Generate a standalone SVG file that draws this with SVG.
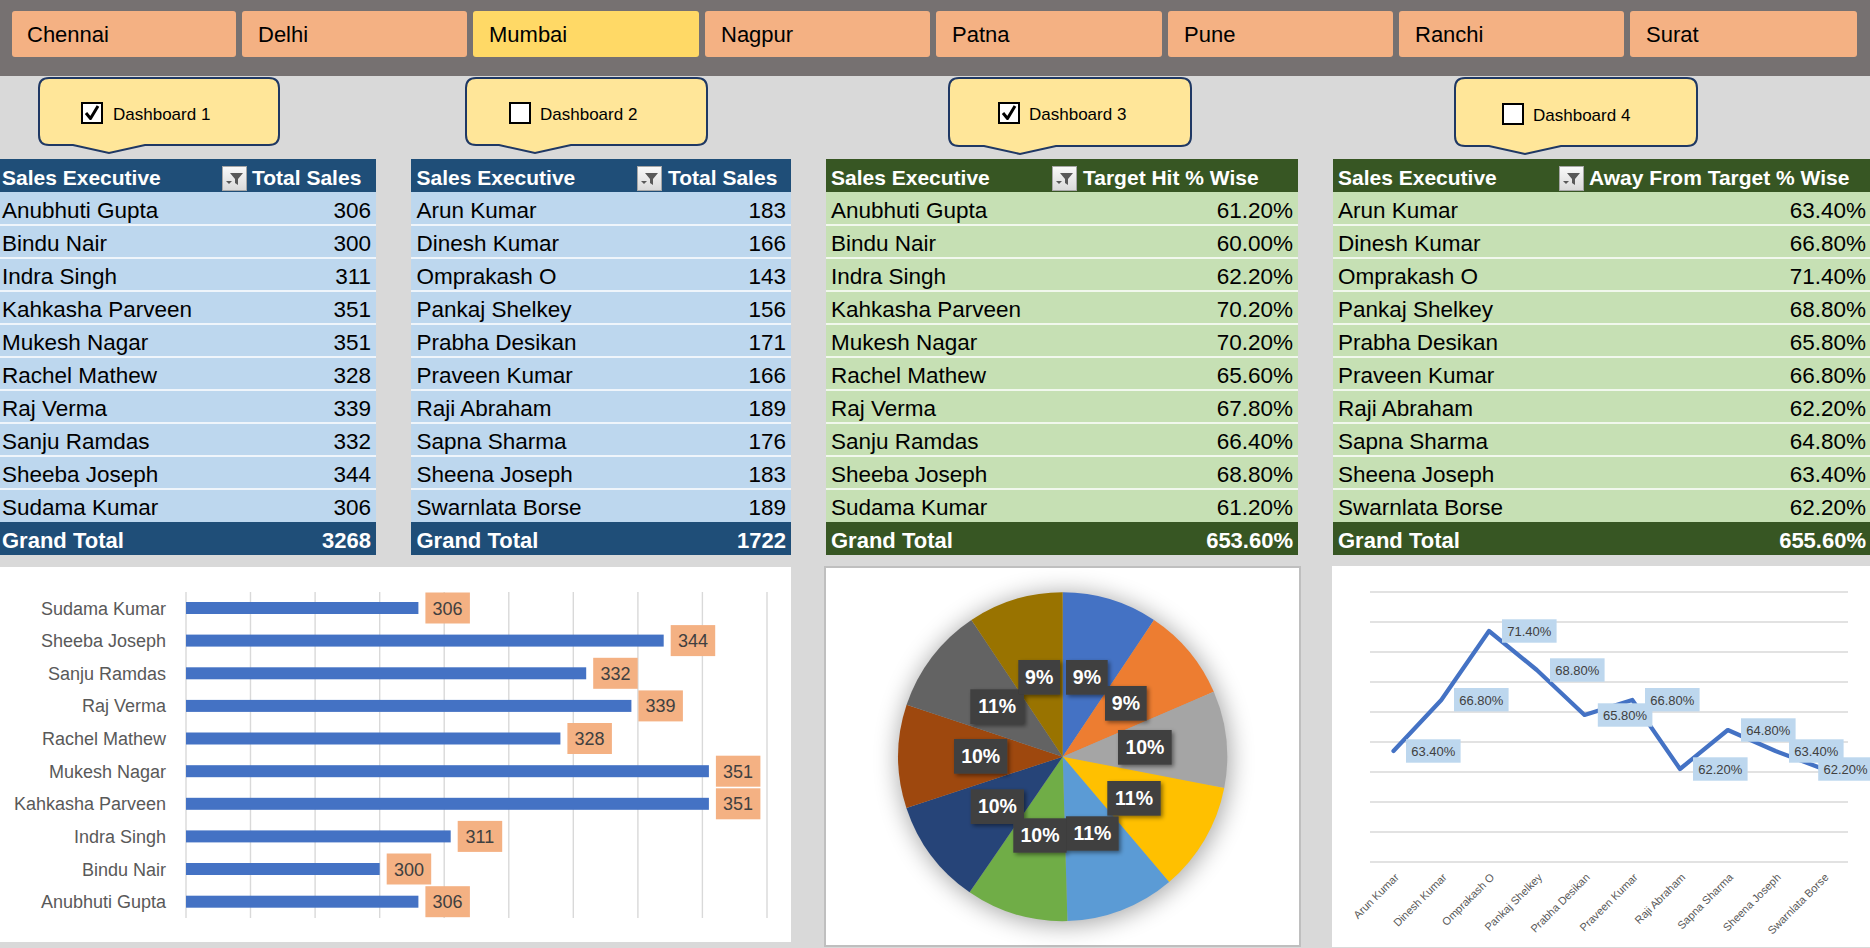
<svg xmlns="http://www.w3.org/2000/svg" xmlns:xlink="http://www.w3.org/1999/xlink" width="1870" height="948" viewBox="0 0 1870 948">
<defs>
<style>
text{font-family:"Liberation Sans",Arial,sans-serif}
.btn{fill:#F4B183}
.btnsel{fill:#FFD966}
.bt{font-size:22px;fill:#000}
.co{fill:#FFE699;stroke:#1F3864;stroke-width:2}
.cb{fill:#fff;stroke:#000;stroke-width:2}
.ck{fill:none;stroke:#000;stroke-width:3;stroke-linejoin:round}
.cbt{font-size:17px;fill:#000}
.hb{fill:#1F4E78}
.rb{fill:#BDD7EE}
.hg{fill:#375623}
.rg{fill:#C6E0B4}
.sep{stroke:#fff;stroke-width:1.6;fill:none}
.th{font-size:21px;font-weight:bold;fill:#fff}
.gt{font-size:22px;font-weight:bold;fill:#fff}
.td{font-size:22.5px;fill:#000}
.r{text-anchor:end}
.c{text-anchor:middle}
.grid{stroke:#D9D9D9;stroke-width:1.4}
.bar{fill:#4472C4}
.bl{fill:#F4B183}
.blt{font-size:18px;fill:#404040;text-anchor:middle}
.cat{font-size:18px;fill:#595959;text-anchor:end}
.pl{fill:#3F3F3F}
.plt{font-size:19.5px;font-weight:bold;fill:#fff;text-anchor:middle}
.ll{fill:#BDD7EE}
.llt{font-size:13px;fill:#404040;text-anchor:middle}
.lc{font-size:11px;fill:#595959;text-anchor:end}
</style>
<linearGradient id="fg" x1="0" y1="0" x2="0" y2="1">
<stop offset="0" stop-color="#FAFAFA"/>
<stop offset="1" stop-color="#D9D9D9"/>
</linearGradient>
<g id="flt">
<rect x="0.5" y="0.5" width="24" height="24" fill="url(#fg)" stroke="#A6A6A6"/>
<path d="M8 7H21L16 13V19L13 17V13Z" fill="#595959"/>
<path d="M4 15H10L7 18Z" fill="#595959"/>
</g>
<filter id="pshadow" x="-30%" y="-30%" width="160%" height="160%">
<feGaussianBlur stdDeviation="12"/>
</filter>
<filter id="lsh" x="-20%" y="-20%" width="150%" height="160%">
<feDropShadow dx="2" dy="2" stdDeviation="2" flood-color="#000" flood-opacity="0.45"/>
</filter>
</defs>

<rect x="0" y="0" width="1870" height="948" fill="#D9D9D9"/>
<rect x="0" y="0" width="1870" height="76" fill="#767171"/>

<g id="slicers">
<g id="btn-chennai"><rect class="btn" x="12" y="11" width="224" height="46" rx="3"/><text class="bt" x="27" y="42">Chennai</text></g>
<g id="btn-delhi"><rect class="btn" x="242" y="11" width="225" height="46" rx="3"/><text class="bt" x="258" y="42">Delhi</text></g>
<g id="btn-mumbai"><rect class="btnsel" x="473" y="11" width="226" height="46" rx="3"/><text class="bt" x="489" y="42">Mumbai</text></g>
<g id="btn-nagpur"><rect class="btn" x="705" y="11" width="225" height="46" rx="3"/><text class="bt" x="721" y="42">Nagpur</text></g>
<g id="btn-patna"><rect class="btn" x="936" y="11" width="226" height="46" rx="3"/><text class="bt" x="952" y="42">Patna</text></g>
<g id="btn-pune"><rect class="btn" x="1168" y="11" width="225" height="46" rx="3"/><text class="bt" x="1184" y="42">Pune</text></g>
<g id="btn-ranchi"><rect class="btn" x="1399" y="11" width="225" height="46" rx="3"/><text class="bt" x="1415" y="42">Ranchi</text></g>
<g id="btn-surat"><rect class="btn" x="1630" y="11" width="227" height="46" rx="3"/><text class="bt" x="1646" y="42">Surat</text></g>
</g>

<g id="callout-1">
<path class="co" d="M49 78H269Q279 78 279 88V135Q279 145 269 145H145L109 153L73 145H49Q39 145 39 135V88Q39 78 49 78Z"/>
<rect class="cb" x="82" y="103" width="20" height="20"/>
<path class="ck" d="M86 113L90.5 118.5L98 106"/>
<text class="cbt" x="113" y="120">Dashboard 1</text>
</g>
<g id="callout-2">
<path class="co" d="M476 78H697Q707 78 707 88V135Q707 145 697 145H571L535 153L499 145H476Q466 145 466 135V88Q466 78 476 78Z"/>
<rect class="cb" x="510" y="103" width="20" height="20"/>
<text class="cbt" x="540" y="120">Dashboard 2</text>
</g>
<g id="callout-3">
<path class="co" d="M959 78H1181Q1191 78 1191 88V136Q1191 146 1181 146H1056L1020 154L984 146H959Q949 146 949 136V88Q949 78 959 78Z"/>
<rect class="cb" x="999" y="103" width="20" height="20"/>
<path class="ck" d="M1003 113L1007.5 118.5L1015 106"/>
<text class="cbt" x="1029" y="120">Dashboard 3</text>
</g>
<g id="callout-4">
<path class="co" d="M1465 78H1687Q1697 78 1697 88V136Q1697 146 1687 146H1561L1525 154L1489 146H1465Q1455 146 1455 136V88Q1455 78 1465 78Z"/>
<rect class="cb" x="1503" y="104" width="20" height="20"/>
<text class="cbt" x="1533" y="121">Dashboard 4</text>
</g>

<g id="table-1">
<rect class="hb" x="0" y="159" width="376" height="33"/>
<rect class="rb" x="0" y="192" width="376" height="330"/>
<rect class="hb" x="0" y="522" width="376" height="33"/>
<path class="sep" d="M0 225H376M0 258H376M0 291H376M0 324H376M0 357H376M0 390H376M0 423H376M0 456H376M0 489H376"/>
<use xlink:href="#flt" x="222" y="166"/>
<text class="th" x="2" y="185">Sales Executive</text>
<text class="th" x="252" y="185">Total Sales</text>
<text class="td" x="2" y="218">Anubhuti Gupta</text><text class="td r" x="371" y="218">306</text>
<text class="td" x="2" y="251">Bindu Nair</text><text class="td r" x="371" y="251">300</text>
<text class="td" x="2" y="284">Indra Singh</text><text class="td r" x="371" y="284">311</text>
<text class="td" x="2" y="317">Kahkasha Parveen</text><text class="td r" x="371" y="317">351</text>
<text class="td" x="2" y="350">Mukesh Nagar</text><text class="td r" x="371" y="350">351</text>
<text class="td" x="2" y="383">Rachel Mathew</text><text class="td r" x="371" y="383">328</text>
<text class="td" x="2" y="416">Raj Verma</text><text class="td r" x="371" y="416">339</text>
<text class="td" x="2" y="449">Sanju Ramdas</text><text class="td r" x="371" y="449">332</text>
<text class="td" x="2" y="482">Sheeba Joseph</text><text class="td r" x="371" y="482">344</text>
<text class="td" x="2" y="515">Sudama Kumar</text><text class="td r" x="371" y="515">306</text>
<text class="gt" x="2" y="548">Grand Total</text><text class="gt r" x="371" y="548">3268</text>
</g>

<g id="table-2">
<rect class="hb" x="411" y="159" width="380" height="33"/>
<rect class="rb" x="411" y="192" width="380" height="330"/>
<rect class="hb" x="411" y="522" width="380" height="33"/>
<path class="sep" d="M411 225H791M411 258H791M411 291H791M411 324H791M411 357H791M411 390H791M411 423H791M411 456H791M411 489H791"/>
<use xlink:href="#flt" x="637" y="166"/>
<text class="th" x="416.5" y="185">Sales Executive</text>
<text class="th" x="668" y="185">Total Sales</text>
<text class="td" x="416.5" y="218">Arun Kumar</text><text class="td r" x="786" y="218">183</text>
<text class="td" x="416.5" y="251">Dinesh Kumar</text><text class="td r" x="786" y="251">166</text>
<text class="td" x="416.5" y="284">Omprakash O</text><text class="td r" x="786" y="284">143</text>
<text class="td" x="416.5" y="317">Pankaj Shelkey</text><text class="td r" x="786" y="317">156</text>
<text class="td" x="416.5" y="350">Prabha Desikan</text><text class="td r" x="786" y="350">171</text>
<text class="td" x="416.5" y="383">Praveen Kumar</text><text class="td r" x="786" y="383">166</text>
<text class="td" x="416.5" y="416">Raji Abraham</text><text class="td r" x="786" y="416">189</text>
<text class="td" x="416.5" y="449">Sapna Sharma</text><text class="td r" x="786" y="449">176</text>
<text class="td" x="416.5" y="482">Sheena Joseph</text><text class="td r" x="786" y="482">183</text>
<text class="td" x="416.5" y="515">Swarnlata Borse</text><text class="td r" x="786" y="515">189</text>
<text class="gt" x="416.5" y="548">Grand Total</text><text class="gt r" x="786" y="548">1722</text>
</g>

<g id="table-3">
<rect class="hg" x="826" y="159" width="472" height="33"/>
<rect class="rg" x="826" y="192" width="472" height="330"/>
<rect class="hg" x="826" y="522" width="472" height="33"/>
<path class="sep" d="M826 225H1298M826 258H1298M826 291H1298M826 324H1298M826 357H1298M826 390H1298M826 423H1298M826 456H1298M826 489H1298"/>
<use xlink:href="#flt" x="1052" y="166"/>
<text class="th" x="831" y="185">Sales Executive</text>
<text class="th" x="1083" y="185">Target Hit % Wise</text>
<text class="td" x="831" y="218">Anubhuti Gupta</text><text class="td r" x="1293" y="218">61.20%</text>
<text class="td" x="831" y="251">Bindu Nair</text><text class="td r" x="1293" y="251">60.00%</text>
<text class="td" x="831" y="284">Indra Singh</text><text class="td r" x="1293" y="284">62.20%</text>
<text class="td" x="831" y="317">Kahkasha Parveen</text><text class="td r" x="1293" y="317">70.20%</text>
<text class="td" x="831" y="350">Mukesh Nagar</text><text class="td r" x="1293" y="350">70.20%</text>
<text class="td" x="831" y="383">Rachel Mathew</text><text class="td r" x="1293" y="383">65.60%</text>
<text class="td" x="831" y="416">Raj Verma</text><text class="td r" x="1293" y="416">67.80%</text>
<text class="td" x="831" y="449">Sanju Ramdas</text><text class="td r" x="1293" y="449">66.40%</text>
<text class="td" x="831" y="482">Sheeba Joseph</text><text class="td r" x="1293" y="482">68.80%</text>
<text class="td" x="831" y="515">Sudama Kumar</text><text class="td r" x="1293" y="515">61.20%</text>
<text class="gt" x="831" y="548">Grand Total</text><text class="gt r" x="1293" y="548">653.60%</text>
</g>

<g id="table-4">
<rect class="hg" x="1333" y="159" width="537" height="33"/>
<rect class="rg" x="1333" y="192" width="537" height="330"/>
<rect class="hg" x="1333" y="522" width="537" height="33"/>
<path class="sep" d="M1333 225H1870M1333 258H1870M1333 291H1870M1333 324H1870M1333 357H1870M1333 390H1870M1333 423H1870M1333 456H1870M1333 489H1870"/>
<use xlink:href="#flt" x="1559" y="166"/>
<text class="th" x="1338" y="185">Sales Executive</text>
<text class="th" x="1589" y="185">Away From Target % Wise</text>
<text class="td" x="1338" y="218">Arun Kumar</text><text class="td r" x="1866" y="218">63.40%</text>
<text class="td" x="1338" y="251">Dinesh Kumar</text><text class="td r" x="1866" y="251">66.80%</text>
<text class="td" x="1338" y="284">Omprakash O</text><text class="td r" x="1866" y="284">71.40%</text>
<text class="td" x="1338" y="317">Pankaj Shelkey</text><text class="td r" x="1866" y="317">68.80%</text>
<text class="td" x="1338" y="350">Prabha Desikan</text><text class="td r" x="1866" y="350">65.80%</text>
<text class="td" x="1338" y="383">Praveen Kumar</text><text class="td r" x="1866" y="383">66.80%</text>
<text class="td" x="1338" y="416">Raji Abraham</text><text class="td r" x="1866" y="416">62.20%</text>
<text class="td" x="1338" y="449">Sapna Sharma</text><text class="td r" x="1866" y="449">64.80%</text>
<text class="td" x="1338" y="482">Sheena Joseph</text><text class="td r" x="1866" y="482">63.40%</text>
<text class="td" x="1338" y="515">Swarnlata Borse</text><text class="td r" x="1866" y="515">62.20%</text>
<text class="gt" x="1338" y="548">Grand Total</text><text class="gt r" x="1866" y="548">655.60%</text>
</g>

<g id="bar-chart">
<rect x="0" y="567" width="791" height="375" fill="#fff"/>
<path class="grid" d="M186 592V918M250.5 592V918M315.1 592V918M379.7 592V918M444.2 592V918M508.8 592V918M573.3 592V918M637.9 592V918M702.4 592V918M767 592V918"/>
<rect class="bar" x="186" y="602" width="232.4" height="12"/>
<rect class="bar" x="186" y="634.6" width="477.7" height="12"/>
<rect class="bar" x="186" y="667.3" width="400.2" height="12"/>
<rect class="bar" x="186" y="699.9" width="445.4" height="12"/>
<rect class="bar" x="186" y="732.5" width="374.4" height="12"/>
<rect class="bar" x="186" y="765.2" width="522.9" height="12"/>
<rect class="bar" x="186" y="797.8" width="522.9" height="12"/>
<rect class="bar" x="186" y="830.4" width="264.7" height="12"/>
<rect class="bar" x="186" y="863" width="193.7" height="12"/>
<rect class="bar" x="186" y="895.7" width="232.4" height="12"/>
<rect class="bl" x="425.4" y="592.5" width="44.5" height="31"/><text class="blt" x="447.6" y="614.5">306</text>
<rect class="bl" x="670.7" y="625.1" width="44.5" height="31"/><text class="blt" x="692.9" y="647.1">344</text>
<rect class="bl" x="593.2" y="657.8" width="44.5" height="31"/><text class="blt" x="615.4" y="679.8">332</text>
<rect class="bl" x="638.4" y="690.4" width="44.5" height="31"/><text class="blt" x="660.6" y="712.4">339</text>
<rect class="bl" x="567.4" y="723" width="44.5" height="31"/><text class="blt" x="589.6" y="745">328</text>
<rect class="bl" x="715.9" y="755.7" width="44.5" height="31"/><text class="blt" x="738.1" y="777.7">351</text>
<rect class="bl" x="715.9" y="788.3" width="44.5" height="31"/><text class="blt" x="738.1" y="810.3">351</text>
<rect class="bl" x="457.7" y="820.9" width="44.5" height="31"/><text class="blt" x="479.9" y="842.9">311</text>
<rect class="bl" x="386.7" y="853.5" width="44.5" height="31"/><text class="blt" x="408.9" y="875.5">300</text>
<rect class="bl" x="425.4" y="886.2" width="44.5" height="31"/><text class="blt" x="447.6" y="908.2">306</text>
<text class="cat" x="166" y="614.5">Sudama Kumar</text>
<text class="cat" x="166" y="647.1">Sheeba Joseph</text>
<text class="cat" x="166" y="679.8">Sanju Ramdas</text>
<text class="cat" x="166" y="712.4">Raj Verma</text>
<text class="cat" x="166" y="745">Rachel Mathew</text>
<text class="cat" x="166" y="777.7">Mukesh Nagar</text>
<text class="cat" x="166" y="810.3">Kahkasha Parveen</text>
<text class="cat" x="166" y="842.9">Indra Singh</text>
<text class="cat" x="166" y="875.5">Bindu Nair</text>
<text class="cat" x="166" y="908.2">Anubhuti Gupta</text>
</g>

<g id="pie-chart">
<rect x="825" y="567" width="475" height="379" fill="#fff" stroke="#BFBFBF" stroke-width="2"/>
<circle cx="1064" cy="759" r="166" fill="#000" opacity="0.35" filter="url(#pshadow)"/>
<path d="M1062.7 756.7L1062.7 592.2A164.5 164.5 0 0 1 1154 619.9Z" fill="#4472C4"/>
<path d="M1062.7 756.7L1154 619.9A164.5 164.5 0 0 1 1213.8 691.8Z" fill="#ED7D31"/>
<path d="M1062.7 756.7L1213.8 691.8A164.5 164.5 0 0 1 1224.2 788.1Z" fill="#A5A5A5"/>
<path d="M1062.7 756.7L1224.2 788.1A164.5 164.5 0 0 1 1169.1 882.1Z" fill="#FFC000"/>
<path d="M1062.7 756.7L1169.1 882.1A164.5 164.5 0 0 1 1067.4 921.1Z" fill="#5B9BD5"/>
<path d="M1062.7 756.7L1067.4 921.1A164.5 164.5 0 0 1 969.6 892.3Z" fill="#70AD47"/>
<path d="M1062.7 756.7L969.6 892.3A164.5 164.5 0 0 1 906.4 808Z" fill="#264478"/>
<path d="M1062.7 756.7L906.4 808A164.5 164.5 0 0 1 906.6 704.8Z" fill="#9E480E"/>
<path d="M1062.7 756.7L906.6 704.8A164.5 164.5 0 0 1 971.4 619.9Z" fill="#636363"/>
<path d="M1062.7 756.7L971.4 619.9A164.5 164.5 0 0 1 1062.7 592.2Z" fill="#997300"/>
<g filter="url(#lsh)">
<rect class="pl" x="1066" y="660" width="41.7" height="34.7"/>
<rect class="pl" x="1105" y="686" width="41.7" height="34.7"/>
<rect class="pl" x="1118" y="730" width="53.7" height="34.7"/>
<rect class="pl" x="1107.3" y="781" width="53.4" height="34.7"/>
<rect class="pl" x="1066" y="816.3" width="52.7" height="34.4"/>
<rect class="pl" x="1013.3" y="818.3" width="53.4" height="34.4"/>
<rect class="pl" x="970.7" y="789.3" width="53.3" height="34.7"/>
<rect class="pl" x="954" y="739" width="53.3" height="34.7"/>
<rect class="pl" x="970.3" y="689.3" width="53.7" height="34.7"/>
<rect class="pl" x="1018.3" y="660" width="41.7" height="34.7"/>
</g>
<text class="plt" x="1086.9" y="684">9%</text>
<text class="plt" x="1125.9" y="710">9%</text>
<text class="plt" x="1144.9" y="754">10%</text>
<text class="plt" x="1134" y="805">11%</text>
<text class="plt" x="1092.4" y="840">11%</text>
<text class="plt" x="1040" y="842">10%</text>
<text class="plt" x="997.4" y="813">10%</text>
<text class="plt" x="980.7" y="763">10%</text>
<text class="plt" x="997.2" y="713">11%</text>
<text class="plt" x="1039.2" y="684">9%</text>
</g>

<g id="line-chart">
<rect x="1332" y="566" width="538" height="381" fill="#fff"/>
<path class="grid" stroke-width="1.6" d="M1370 592H1848M1370 622H1848M1370 652H1848M1370 682H1848M1370 712H1848M1370 742H1848M1370 772H1848M1370 802H1848M1370 832H1848M1370 862H1848"/>
<polyline points="1393.5,751 1441.3,700 1489,631 1536.8,670 1584.5,715 1632.3,700 1680,769 1727.8,730 1775.5,751 1823.3,769" fill="none" stroke="#4472C4" stroke-width="4.2" stroke-linejoin="round" stroke-linecap="round"/>
<rect class="ll" x="1406" y="739.3" width="54.6" height="23.4"/><text class="llt" x="1433.3" y="755.8">63.40%</text>
<rect class="ll" x="1454" y="688" width="54.6" height="23.4"/><text class="llt" x="1481.3" y="704.5">66.80%</text>
<rect class="ll" x="1502" y="619.3" width="54.6" height="23.4"/><text class="llt" x="1529.3" y="635.8">71.40%</text>
<rect class="ll" x="1550" y="658.3" width="54.6" height="23.4"/><text class="llt" x="1577.3" y="674.8">68.80%</text>
<rect class="ll" x="1597.8" y="703.3" width="54.6" height="23.4"/><text class="llt" x="1625.1" y="719.8">65.80%</text>
<rect class="ll" x="1645" y="688" width="54.6" height="23.4"/><text class="llt" x="1672.3" y="704.5">66.80%</text>
<rect class="ll" x="1693" y="757.3" width="54.6" height="23.4"/><text class="llt" x="1720.3" y="773.8">62.20%</text>
<rect class="ll" x="1741" y="718.3" width="54.6" height="23.4"/><text class="llt" x="1768.3" y="734.8">64.80%</text>
<rect class="ll" x="1789" y="739.3" width="54.6" height="23.4"/><text class="llt" x="1816.3" y="755.8">63.40%</text>
<rect class="ll" x="1818.2" y="757.3" width="54.6" height="23.4"/><text class="llt" x="1845.5" y="773.8">62.20%</text>
<text class="lc" transform="translate(1399.5 878) rotate(-45)">Arun Kumar</text>
<text class="lc" transform="translate(1447.3 878) rotate(-45)">Dinesh Kumar</text>
<text class="lc" transform="translate(1495 878) rotate(-45)">Omprakash O</text>
<text class="lc" transform="translate(1542.8 878) rotate(-45)">Pankaj Shelkey</text>
<text class="lc" transform="translate(1590.5 878) rotate(-45)">Prabha Desikan</text>
<text class="lc" transform="translate(1638.3 878) rotate(-45)">Praveen Kumar</text>
<text class="lc" transform="translate(1686 878) rotate(-45)">Raji Abraham</text>
<text class="lc" transform="translate(1733.8 878) rotate(-45)">Sapna Sharma</text>
<text class="lc" transform="translate(1781.5 878) rotate(-45)">Sheena Joseph</text>
<text class="lc" transform="translate(1829.3 878) rotate(-45)">Swarnlata Borse</text>
</g>
</svg>
